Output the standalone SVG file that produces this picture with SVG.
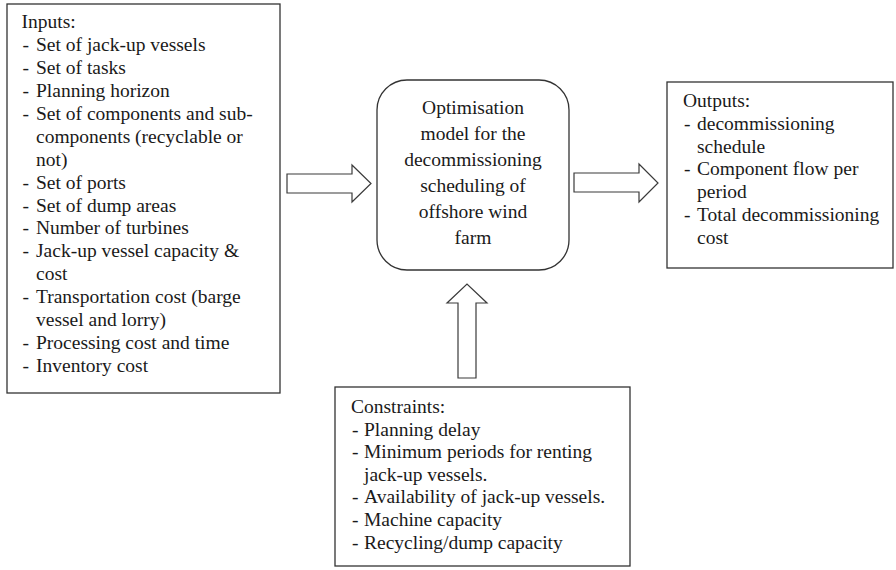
<svg xmlns="http://www.w3.org/2000/svg" width="896" height="570" viewBox="0 0 896 570">
<style>
  .box { fill: #ffffff; stroke: #333333; stroke-width: 1.3; }
  .arrow { fill: #ffffff; stroke: #3a3a3a; stroke-width: 1.2; stroke-linejoin: miter; }
  .t { font-family: 'Liberation Serif', 'Times New Roman', serif; font-size: 19.5px; fill: #1a1a1a; }
  .c { text-anchor: middle; }
</style>
<rect x="0" y="0" width="896" height="570" fill="#ffffff"/>
<g id="connectors">
  <polygon class="arrow" points="287,174 352,174 352,165 371,183.5 352,202 352,193 287,193"/>
  <polygon class="arrow" points="574,173 639,173 639,164 658,183 639,202 639,192 574,192"/>
  <polygon class="arrow" points="458,378 458,303 447,303 467,284 487,303 476,303 476,378"/>
</g>
<g id="inputs" class="t">
  <rect class="box" x="7" y="4" width="273" height="389"/>
  <text x="21.5" y="28.3">Inputs:</text>
  <text x="22.5" y="51.2">-</text><text x="36" y="51.2">Set of jack-up vessels</text>
  <text x="22.5" y="74.1">-</text><text x="36" y="74.1">Set of tasks</text>
  <text x="22.5" y="97">-</text><text x="36" y="97">Planning horizon</text>
  <text x="22.5" y="119.9">-</text><text x="36" y="119.9">Set of components and sub-</text>
  <text x="36" y="142.8">components (recyclable or</text>
  <text x="36" y="165.7">not)</text>
  <text x="22.5" y="188.6">-</text><text x="36" y="188.6">Set of ports</text>
  <text x="22.5" y="211.5">-</text><text x="36" y="211.5">Set of dump areas</text>
  <text x="22.5" y="234.4">-</text><text x="36" y="234.4">Number of turbines</text>
  <text x="22.5" y="257.3">-</text><text x="36" y="257.3">Jack-up vessel capacity &amp;</text>
  <text x="36" y="280.2">cost</text>
  <text x="22.5" y="303.1">-</text><text x="36" y="303.1">Transportation cost (barge</text>
  <text x="36" y="326">vessel and lorry)</text>
  <text x="22.5" y="348.9">-</text><text x="36" y="348.9">Processing cost and time</text>
  <text x="22.5" y="371.8">-</text><text x="36" y="371.8">Inventory cost</text>
</g>
<g id="model" class="t">
  <rect class="box" x="377" y="80" width="192" height="190" rx="30" ry="30"/>
  <text class="c" x="473" y="114">Optimisation</text>
  <text class="c" x="473" y="140">model for the</text>
  <text class="c" x="473" y="166">decommissioning</text>
  <text class="c" x="473" y="192">scheduling of</text>
  <text class="c" x="473" y="218">offshore wind</text>
  <text class="c" x="473" y="244">farm</text>
</g>
<g id="outputs" class="t">
  <rect class="box" x="667" y="82" width="226" height="186"/>
  <text x="683" y="106.7">Outputs:</text>
  <text x="684" y="129.6">-</text><text x="697" y="129.6">decommissioning</text>
  <text x="697" y="152.5">schedule</text>
  <text x="684" y="175.4">-</text><text x="697" y="175.4">Component flow per</text>
  <text x="697" y="198.3">period</text>
  <text x="684" y="221.2">-</text><text x="697" y="221.2">Total decommissioning</text>
  <text x="697" y="244.1">cost</text>
</g>
<g id="constraints" class="t">
  <rect class="box" x="335" y="387" width="295" height="179"/>
  <text x="351" y="413">Constraints:</text>
  <text x="352" y="435.6">-</text><text x="364" y="435.6">Planning delay</text>
  <text x="352" y="458.2">-</text><text x="364" y="458.2">Minimum periods for renting</text>
  <text x="364" y="480.8">jack-up vessels.</text>
  <text x="352" y="503.4">-</text><text x="364" y="503.4">Availability of jack-up vessels.</text>
  <text x="352" y="526">-</text><text x="364" y="526">Machine capacity</text>
  <text x="352" y="548.6">-</text><text x="364" y="548.6">Recycling/dump capacity</text>
</g>
</svg>
